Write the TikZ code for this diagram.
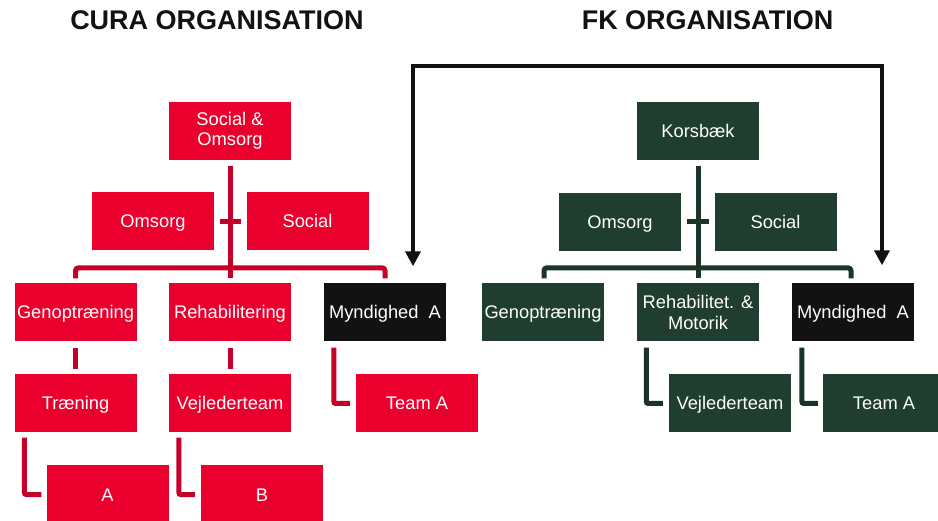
\documentclass[tikz,border=0pt]{standalone}
\usepackage{fontspec}
\setmainfont{Liberation Sans}
\usetikzlibrary{arrows.meta,calc}
\definecolor{curared}{RGB}{235,0,45}
\definecolor{linkred}{RGB}{196,0,40}
\definecolor{fkgreen}{RGB}{31,62,48}
\definecolor{linkgreen}{RGB}{26,52,40}
\definecolor{boxblack}{RGB}{18,18,18}
\definecolor{arrowblack}{RGB}{17,17,17}
\begin{document}
\begin{tikzpicture}[x=1pt,y=-1pt,
  box/.style={minimum width=122pt,minimum height=58pt,inner sep=0pt,
    text=white,align=center,font=\fontsize{18.3}{20.5}\selectfont},
  oneline/.style={text height=13pt,text depth=0pt},
  redbox/.style={box,oneline,fill=curared},
  greenbox/.style={box,oneline,fill=fkgreen},
  blackbox/.style={box,oneline,fill=boxblack},
  redlink/.style={draw=linkred,line width=5pt},
  greenlink/.style={draw=linkgreen,line width=5pt},
  title/.style={anchor=base,text=black!93,font=\fontsize{27}{30}\bfseries\selectfont},
  crosslink/.style={draw=arrowblack,line width=4pt,
    {Triangle[width=15pt,length=15pt]}-{Triangle[width=15pt,length=15pt]}}
]
\clip (0,0) rectangle (938,521);
\fill[white] (0,0) rectangle (938,521);

% titles
\node[title] (t1) at (217,29.5) {CURA ORGANISATION};
\node[title] (t2) at (707.5,29.5) {FK ORGANISATION};

% CURA organisation
\node[box,fill=curared] (so) at (230,131) {Social \&\\Omsorg};
\node[redbox] (om1) at (153,221.5) {Omsorg};
\node[redbox] (soc1) at (307.5,221.5) {Social};
\node[redbox] (geno1) at (75.5,312.5) {Genoptræning};
\node[redbox] (rehab1) at (230,312.5) {Rehabilitering};
\node[blackbox] (mynd1) at (385,312.5) {Myndighed\ \ A};
\node[redbox] (tr1) at (75.5,403.5) {Træning};
\node[redbox] (vej1) at (230,403.5) {Vejlederteam};
\node[redbox] (team1) at (417,403.5) {Team A};
\node[redbox] (ga) at (107.5,494.5) {A};
\node[redbox] (gb) at (262,494.5) {B};

\draw[redlink] ($(so.south)+(0,6)$) -- ($(so.south |- geno1.north)+(0,-5)$);
\draw[redlink] ($(om1.east)+(6,0)$) -- ($(soc1.west)+(-5,0)$);
\draw[redlink,rounded corners=3pt] ($(geno1.north)+(0,-5)$) -- ($(geno1.north)+(0,-15.5)$)
  -- ($(mynd1.north)+(0,-15.5)$) -- ($(mynd1.north)+(0,-5)$);
\draw[redlink] ($(geno1.south)+(0,6)$) -- ($(tr1.north)+(0,-5)$);
\draw[redlink] ($(rehab1.south)+(0,6)$) -- ($(vej1.north)+(0,-5)$);
\draw[redlink,rounded corners=2pt] ($(mynd1.south west)+(10,6)$) |- ($(team1.west)+(-6,0)$);
\draw[redlink,rounded corners=2pt] ($(tr1.south west)+(10,5)$) |- ($(ga.west)+(-5,0)$);
\draw[redlink,rounded corners=2pt] ($(vej1.south west)+(10,5)$) |- ($(gb.west)+(-6,0)$);

% FK organisation
\node[greenbox] (kors) at (698,131) {Korsbæk};
\node[greenbox] (om2) at (620,222) {Omsorg};
\node[greenbox] (soc2) at (775.5,222) {Social};
\node[greenbox] (geno2) at (543,312.5) {Genoptræning};
\node[box,fill=fkgreen] (rehab2) at (698,312.5) {Rehabilitet. \&\\Motorik};
\node[blackbox] (mynd2) at (853,312.5) {Myndighed\ \ A};
\node[greenbox] (vej2) at (730,403.5) {Vejlederteam};
\node[greenbox] (team2) at (884,403.5) {Team A};

\draw[greenlink] ($(kors.south)+(0,6)$) -- ($(kors.south |- rehab2.north)+(0,-5)$);
\draw[greenlink] ($(om2.east)+(6,0)$) -- ($(soc2.west)+(-5,0)$);
\draw[greenlink,rounded corners=3pt] ($(geno2.north)+(1,-5)$) -- ($(geno2.north)+(1,-15.5)$)
  -- ($(mynd2.north)+(-2,-15.5)$) -- ($(mynd2.north)+(-2,-5)$);
\draw[greenlink,rounded corners=2pt] ($(rehab2.south west)+(9.5,6)$) |- ($(vej2.west)+(-6,0)$);
\draw[greenlink,rounded corners=2pt] ($(mynd2.south west)+(10,6)$) |- ($(team2.west)+(-5,0)$);

% link between the two authority units
\draw[crosslink] ($(mynd1.north)+(28,-17)$) -- ($(mynd1.north)+(28,-217)$)
  -| ($(mynd2.north)+(29,-18)$);
\end{tikzpicture}
\end{document}
